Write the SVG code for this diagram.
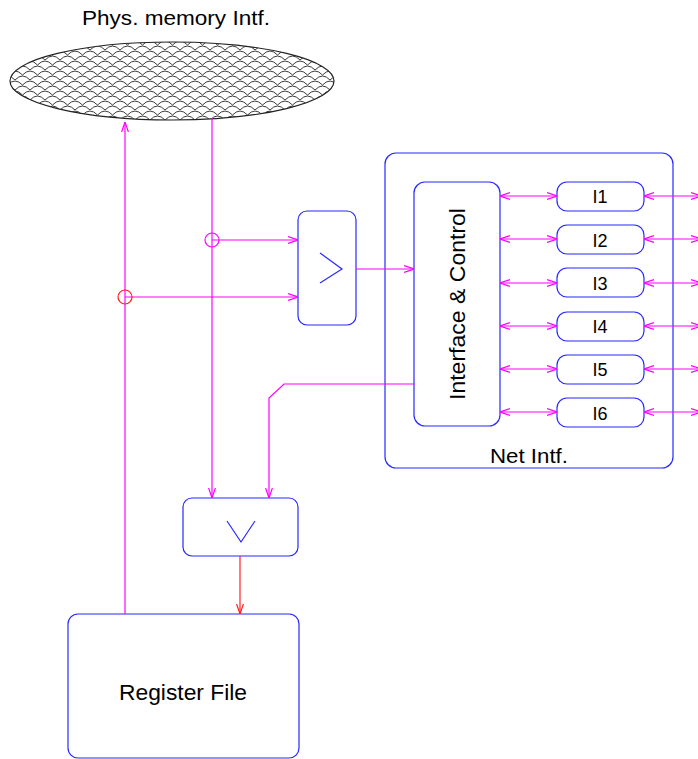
<svg xmlns="http://www.w3.org/2000/svg" width="698" height="759" viewBox="0 0 698 759">
<style>
.box{fill:#fff;stroke:#2828ff;stroke-width:1.2}
.w{fill:none;stroke:#ff00ff;stroke-width:1.2}
.r{fill:none;stroke:#ff2020;stroke-width:1.2}
.t{font-family:"Liberation Sans",Arial,sans-serif;font-size:21px;fill:#000}
.s{font-family:"Liberation Sans",Arial,sans-serif;font-size:18px;fill:#000}
.ch{fill:none;stroke:#2828ff;stroke-width:1.2}
</style>
<defs>
<pattern id="scales" width="15" height="10" patternUnits="userSpaceOnUse">
<path d="M-7.5,5 Q0,-3 7.5,5 Q15,-3 22.5,5 M0,10 Q7.5,2 15,10" fill="none" stroke="#222" stroke-width="0.9"/>
</pattern>
<marker id="ah" viewBox="0 0 10 8" refX="10" refY="4" markerWidth="10" markerHeight="8" markerUnits="userSpaceOnUse" orient="auto-start-reverse">
<path d="M0,0.6 L10,4 L0,7.4" fill="none" stroke="#ff00ff" stroke-width="1.2"/>
</marker>
<marker id="ahr" viewBox="0 0 10 8" refX="10" refY="4" markerWidth="10" markerHeight="8" markerUnits="userSpaceOnUse" orient="auto">
<path d="M0,0.6 L10,4 L0,7.4" fill="none" stroke="#ff2020" stroke-width="1.2"/>
</marker>
</defs>

<g id="mem">
<ellipse cx="172" cy="81" rx="162" ry="39" fill="url(#scales)" stroke="#222" stroke-width="1.2"/>
<text class="t" x="82" y="25" textLength="188" lengthAdjust="spacingAndGlyphs">Phys. memory Intf.</text>
</g>

<g id="netintf">
<rect class="box" x="385" y="153" width="288" height="315" rx="11"/>
<text class="t" x="490" y="463" textLength="78" lengthAdjust="spacingAndGlyphs">Net Intf.</text>
</g>

<g id="ifctl">
<rect class="box" x="414" y="182" width="86" height="244" rx="11"/>
<text class="t" transform="translate(465,304) rotate(-90)" x="-96" y="0" textLength="192" lengthAdjust="spacingAndGlyphs" style="font-size:21.5px">Interface &amp; Control</text>
</g>

<g id="I1"><rect class="box" x="557" y="182" width="87" height="29" rx="10"/><text class="s" x="600" y="203.3" text-anchor="middle">I1</text></g>
<g id="I2"><rect class="box" x="557" y="225" width="87" height="29" rx="10"/><text class="s" x="600" y="246.6" text-anchor="middle">I2</text></g>
<g id="I3"><rect class="box" x="557" y="268" width="87" height="29" rx="10"/><text class="s" x="600" y="290" text-anchor="middle">I3</text></g>
<g id="I4"><rect class="box" x="557" y="312" width="87" height="29" rx="10"/><text class="s" x="600" y="333" text-anchor="middle">I4</text></g>
<g id="I5"><rect class="box" x="557" y="355" width="87" height="29" rx="10"/><text class="s" x="600" y="376" text-anchor="middle">I5</text></g>
<g id="I6"><rect class="box" x="557" y="398" width="87" height="29" rx="10"/><text class="s" x="600" y="419.5" text-anchor="middle">I6</text></g>

<g id="mux1">
<rect class="box" x="298" y="211" width="58" height="114" rx="9"/>
<path class="ch" d="M320,253 L342,269 L320,283"/>
</g>

<g id="mux2">
<rect class="box" x="183" y="498" width="115" height="58" rx="9"/>
<path class="ch" d="M227,521 L241,542 L255,521"/>
</g>

<g id="regfile">
<rect class="box" x="68" y="614" width="231" height="144" rx="10"/>
<text class="t" x="119" y="700" textLength="128" lengthAdjust="spacingAndGlyphs" style="font-size:22px">Register File</text>
</g>

<g id="connectors">
<line class="w" x1="125" y1="614" x2="125" y2="122" marker-end="url(#ah)"/>
<line class="w" x1="212" y1="118" x2="212" y2="498" marker-end="url(#ah)"/>
<line class="w" x1="212" y1="240" x2="298" y2="240" marker-end="url(#ah)"/>
<line class="w" x1="125" y1="297" x2="298" y2="297" marker-end="url(#ah)"/>
<line class="w" x1="356" y1="269" x2="414" y2="269" marker-end="url(#ah)"/>
<polyline class="w" points="414,384 284,384 269,398 269,498" marker-end="url(#ah)"/>
<line class="r" x1="240" y1="556" x2="240" y2="614" marker-end="url(#ahr)"/>
<circle cx="212" cy="240" r="7" fill="none" stroke="#ff00ff" stroke-width="1.2"/>
<circle cx="125" cy="297" r="7" fill="none" stroke="#ff2020" stroke-width="1.2"/>
<line class="w" x1="500" y1="196" x2="557" y2="196" marker-start="url(#ah)" marker-end="url(#ah)"/>
<line class="w" x1="500" y1="239" x2="557" y2="239" marker-start="url(#ah)" marker-end="url(#ah)"/>
<line class="w" x1="500" y1="283" x2="557" y2="283" marker-start="url(#ah)" marker-end="url(#ah)"/>
<line class="w" x1="500" y1="326" x2="557" y2="326" marker-start="url(#ah)" marker-end="url(#ah)"/>
<line class="w" x1="500" y1="369" x2="557" y2="369" marker-start="url(#ah)" marker-end="url(#ah)"/>
<line class="w" x1="500" y1="412" x2="557" y2="412" marker-start="url(#ah)" marker-end="url(#ah)"/>
<line class="w" x1="644" y1="196" x2="701" y2="196" marker-start="url(#ah)" marker-end="url(#ah)"/>
<line class="w" x1="644" y1="239" x2="701" y2="239" marker-start="url(#ah)" marker-end="url(#ah)"/>
<line class="w" x1="644" y1="283" x2="701" y2="283" marker-start="url(#ah)" marker-end="url(#ah)"/>
<line class="w" x1="644" y1="326" x2="701" y2="326" marker-start="url(#ah)" marker-end="url(#ah)"/>
<line class="w" x1="644" y1="369" x2="701" y2="369" marker-start="url(#ah)" marker-end="url(#ah)"/>
<line class="w" x1="644" y1="412" x2="701" y2="412" marker-start="url(#ah)" marker-end="url(#ah)"/>
</g>
</svg>
